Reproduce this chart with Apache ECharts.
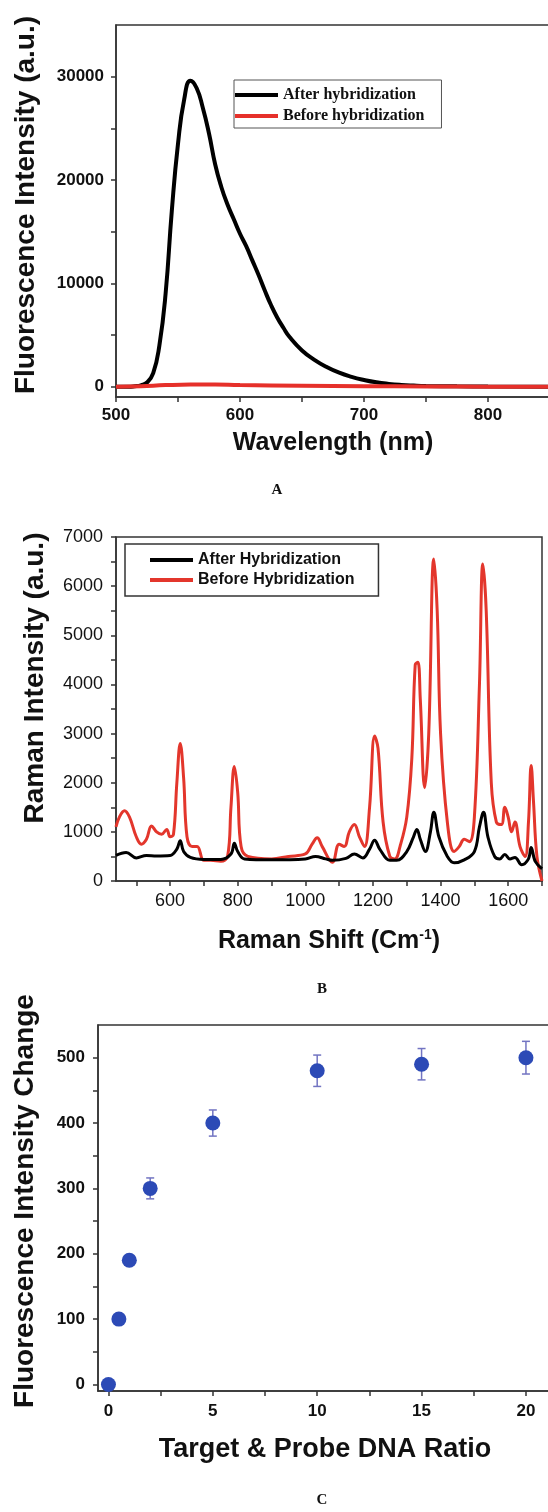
<!DOCTYPE html>
<html>
<head>
<meta charset="utf-8">
<script src="https://cdn.jsdelivr.net/npm/echarts@6/dist/echarts.min.js"></script>
<style>
  html, body { margin: 0; padding: 0; background: #fff; }
  #chart { width: 548px; height: 1512px; }
</style>
</head>
<body>
<div id="chart"></div>
<script>
  // panel A: fluorescence spectra
  var waveAfterA = [500, 510, 515, 520, 525, 530, 535, 540, 545, 550, 555, 560, 565, 570, 575, 580, 585, 590, 595, 600,
                    605, 610, 615, 620, 625, 630, 635, 640, 650, 660, 670, 680, 690, 700, 710, 720, 730, 740, 750, 775, 800, 850];
  var afterA = [0, 0, 40, 130, 400, 1300, 4000, 9000, 17000, 23500, 27800, 29600, 28900, 27000, 24500, 21500, 19300, 17600, 16200, 14800,
                13600, 12200, 10800, 9300, 7900, 6700, 5700, 4800, 3500, 2600, 1900, 1350, 950, 650, 420, 270, 170, 110, 70, 30, 10, 0];
  var waveBeforeA = [500, 520, 540, 560, 580, 600, 650, 700, 750, 800, 850];
  var beforeA = [0, 50, 150, 200, 200, 150, 100, 50, 20, 0, 0];

  // panel B: raman spectra
  var shiftBeforeB = [440, 450, 465, 480, 500, 515, 530, 545, 560, 575, 590, 600, 610, 620, 630, 640, 650, 665, 680, 700,
                      720, 750, 770, 780, 790, 800, 810, 830, 900, 950, 1000, 1020, 1035, 1050, 1080, 1100, 1115, 1130, 1145, 1160,
                      1175, 1190, 1205, 1215, 1230, 1250, 1265, 1280, 1300, 1315, 1325, 1333, 1340, 1353, 1365, 1380, 1390, 1400, 1420, 1440,
                      1455, 1470, 1485, 1500, 1515, 1525, 1535, 1550, 1565, 1580, 1590, 1600, 1610, 1620, 1635, 1650, 1660, 1668, 1675, 1685, 1700];
  var beforeB = [1100, 1300, 1430, 1300, 900, 750, 850, 1120, 1000, 950, 1050, 900, 950, 2000, 2800, 2100, 900, 700, 700, 420,
                 420, 400, 500, 1500, 2330, 1800, 700, 500, 450, 500, 550, 750, 880, 700, 380, 750, 700, 1000, 1150, 900,
                 700, 1500, 2950, 2700, 1200, 500, 450, 700, 1300, 2500, 4400, 4450, 3700, 1900, 3000, 6550, 5500, 3000, 1200, 600,
                 700, 850, 800, 1300, 4000, 6450, 5500, 2000, 1200, 1150, 1500, 1300, 1000, 1200, 700, 500, 1200, 2350, 1600, 500, 0];
  var shiftAfterB = [440, 470, 500, 530, 560, 600, 620, 630, 640, 660, 700, 750, 780, 790, 800, 820, 900, 1000, 1030, 1060,
                     1080, 1120, 1145, 1170, 1190, 1205, 1220, 1250, 1270, 1300, 1320, 1330, 1340, 1355, 1370, 1380, 1395, 1420, 1440, 1470,
                     1500, 1515, 1527, 1540, 1560, 1575, 1590, 1605, 1620, 1640, 1660, 1668, 1680, 1700];
  var afterB = [520, 580, 470, 520, 510, 520, 650, 820, 600, 480, 440, 440, 550, 770, 600, 450, 430, 450, 500, 450,
                420, 460, 550, 470, 650, 830, 650, 420, 420, 600, 900, 1050, 850, 600, 1000, 1400, 900, 500, 370, 430,
                600, 1100, 1400, 900, 500, 450, 540, 450, 480, 330, 450, 680, 400, 250];

  // panel C: titration
  var ratioC = [0, 0.5, 1, 2, 5, 10, 15, 20];
  var changeC = [0, 100, 190, 300, 400, 480, 490, 500];
  var errC = [3, 5, 5, 16, 20, 24, 24, 25];

  var axisColor = '#333';
  var textColor = '#111';
  var sans = '"Liberation Sans", Arial, sans-serif';
  var serif = '"Liberation Serif", "Times New Roman", serif';

  function pairs(xs, ys) {
    return xs.map(function (x, i) { return [x, ys[i]]; });
  }
  function range(a, b, step) {
    var out = [];
    for (var v = a; v <= b + 1e-9; v += step) out.push(v);
    return out;
  }
  function valueAxis(gi, min, max, ticks, labels, bold, size, margin) {
    return {
      type: 'value', gridIndex: gi, min: min, max: max,
      splitLine: { show: false },
      axisLine: { show: true, onZero: false, lineStyle: { color: axisColor, width: 1.5 } },
      axisTick: { show: true, length: 5, customValues: ticks, lineStyle: { color: axisColor, width: 1.5 } },
      axisLabel: {
        customValues: labels, color: textColor, margin: margin,
        fontFamily: sans, fontWeight: bold ? 'bold' : 'normal', fontSize: size,
        formatter: function (v) { return String(v); }
      }
    };
  }

  var chart = echarts.init(document.getElementById('chart'), null, { renderer: 'canvas' });
  chart.setOption({
    animation: false,
    backgroundColor: '#fff',
    grid: [
      { left: 116, top: 25, width: 434, height: 372, show: true, borderColor: axisColor, borderWidth: 1.5, outerBoundsMode: 'none' },
      { left: 116, top: 537, width: 426, height: 344, show: true, borderColor: axisColor, borderWidth: 1.5, outerBoundsMode: 'none' },
      { left: 98, top: 1025, width: 453, height: 366, show: true, borderColor: axisColor, borderWidth: 1.5, outerBoundsMode: 'none' }
    ],
    xAxis: [
      valueAxis(0, 500, 850, range(500, 850, 50), [500, 600, 700, 800], true, 17, 10),
      valueAxis(1, 440, 1700, range(500, 1700, 100), range(600, 1600, 200), false, 18, 11),
      valueAxis(2, -0.5, 21.2, range(0, 20, 2.5), range(0, 20, 5), true, 17, 12)
    ],
    yAxis: [
      valueAxis(0, -1000, 35000, range(0, 30000, 5000), range(0, 30000, 10000), true, 17, 12),
      valueAxis(1, 0, 7000, range(0, 7000, 500), range(0, 7000, 1000), false, 18, 13),
      valueAxis(2, -10, 550, range(0, 500, 50), range(0, 500, 100), true, 17, 13)
    ],
    legend: [
      {
        orient: 'vertical', left: 234, top: 80, itemWidth: 43, itemHeight: 4, itemGap: 5,
        padding: [7, 17, 4, 1], borderColor: '#555', borderWidth: 1, borderRadius: 0, icon: 'rect',
        textStyle: { fontFamily: serif, fontWeight: 'bold', fontSize: 16, color: textColor },
        data: ['After hybridization', 'Before hybridization']
      },
      {
        orient: 'vertical', left: 125, top: 544, itemWidth: 43, itemHeight: 4, itemGap: 4,
        padding: [8, 24, 8, 25], borderColor: '#333', borderWidth: 1.5, borderRadius: 0, icon: 'rect',
        textStyle: { fontFamily: sans, fontWeight: 'bold', fontSize: 16, color: textColor },
        data: ['After Hybridization', 'Before Hybridization']
      }
    ],
    graphic: [
      { type: 'text', x: 26, y: 205, rotation: Math.PI / 2,
        style: { text: 'Fluorescence Intensity (a.u.)', font: 'bold 28px ' + sans, fill: textColor, align: 'center', verticalAlign: 'middle' } },
      { type: 'text', x: 333, y: 443,
        style: { text: 'Wavelength (nm)', font: 'bold 25px ' + sans, fill: textColor, align: 'center', verticalAlign: 'middle' } },
      { type: 'text', x: 277, y: 490,
        style: { text: 'A', font: 'bold 15px ' + serif, fill: textColor, align: 'center', verticalAlign: 'middle' } },
      { type: 'text', x: 35, y: 678, rotation: Math.PI / 2,
        style: { text: 'Raman Intensity (a.u.)', font: 'bold 28px ' + sans, fill: textColor, align: 'center', verticalAlign: 'middle' } },
      { type: 'text', x: 329, y: 941,
        style: {
          text: '{n|Raman Shift (Cm}{s|-1}{n|)}', fill: textColor, align: 'center', verticalAlign: 'middle',
          rich: {
            n: { fontFamily: sans, fontWeight: 'bold', fontSize: 25, fill: textColor },
            s: { fontFamily: sans, fontWeight: 'bold', fontSize: 14, fill: textColor, verticalAlign: 'top' }
          }
        } },
      { type: 'text', x: 322, y: 989,
        style: { text: 'B', font: 'bold 15px ' + serif, fill: textColor, align: 'center', verticalAlign: 'middle' } },
      { type: 'text', x: 25, y: 1201, rotation: Math.PI / 2,
        style: { text: 'Fluorescence Intensity Change', font: 'bold 28px ' + sans, fill: textColor, align: 'center', verticalAlign: 'middle' } },
      { type: 'text', x: 325, y: 1450,
        style: { text: 'Target & Probe DNA Ratio', font: 'bold 27px ' + sans, fill: textColor, align: 'center', verticalAlign: 'middle' } },
      { type: 'text', x: 322, y: 1500,
        style: { text: 'C', font: 'bold 15px ' + serif, fill: textColor, align: 'center', verticalAlign: 'middle' } }
    ],
    series: [
      {
        name: 'After hybridization', type: 'line', xAxisIndex: 0, yAxisIndex: 0,
        data: pairs(waveAfterA, afterA), smooth: 0.5, showSymbol: false,
        lineStyle: { color: '#000', width: 4 }, itemStyle: { color: '#000' }
      },
      {
        name: 'Before hybridization', type: 'line', xAxisIndex: 0, yAxisIndex: 0,
        data: pairs(waveBeforeA, beforeA), smooth: 0.5, showSymbol: false,
        lineStyle: { color: '#e6302a', width: 4 }, itemStyle: { color: '#e6302a' }
      },
      {
        name: 'Before Hybridization', type: 'line', xAxisIndex: 1, yAxisIndex: 1,
        data: pairs(shiftBeforeB, beforeB), smooth: 0.4, showSymbol: false,
        lineStyle: { color: '#e3362c', width: 3 }, itemStyle: { color: '#e3362c' }
      },
      {
        name: 'After Hybridization', type: 'line', xAxisIndex: 1, yAxisIndex: 1,
        data: pairs(shiftAfterB, afterB), smooth: 0.4, showSymbol: false,
        lineStyle: { color: '#000', width: 3 }, itemStyle: { color: '#000' }
      },
      {
        name: 'error', type: 'custom', xAxisIndex: 2, yAxisIndex: 2,
        data: ratioC.map(function (r, i) { return [r, changeC[i] - errC[i], changeC[i] + errC[i]]; }),
        encode: { x: 0, y: [1, 2] },
        renderItem: function (params, api) {
          var top = api.coord([api.value(0), api.value(2)]);
          var bot = api.coord([api.value(0), api.value(1)]);
          var w = 4;
          var st = { stroke: '#7274c2', lineWidth: 1.5 };
          return {
            type: 'group',
            children: [
              { type: 'line', shape: { x1: top[0], y1: top[1], x2: bot[0], y2: bot[1] }, style: st },
              { type: 'line', shape: { x1: top[0] - w, y1: top[1], x2: top[0] + w, y2: top[1] }, style: st },
              { type: 'line', shape: { x1: bot[0] - w, y1: bot[1], x2: bot[0] + w, y2: bot[1] }, style: st }
            ]
          };
        },
        z: 2
      },
      {
        name: 'ratio', type: 'scatter', xAxisIndex: 2, yAxisIndex: 2,
        data: pairs(ratioC, changeC), symbol: 'circle', symbolSize: 15,
        itemStyle: { color: '#2c4ab6', opacity: 1 }, z: 3
      }
    ]
  });
</script>
</body>
</html>
